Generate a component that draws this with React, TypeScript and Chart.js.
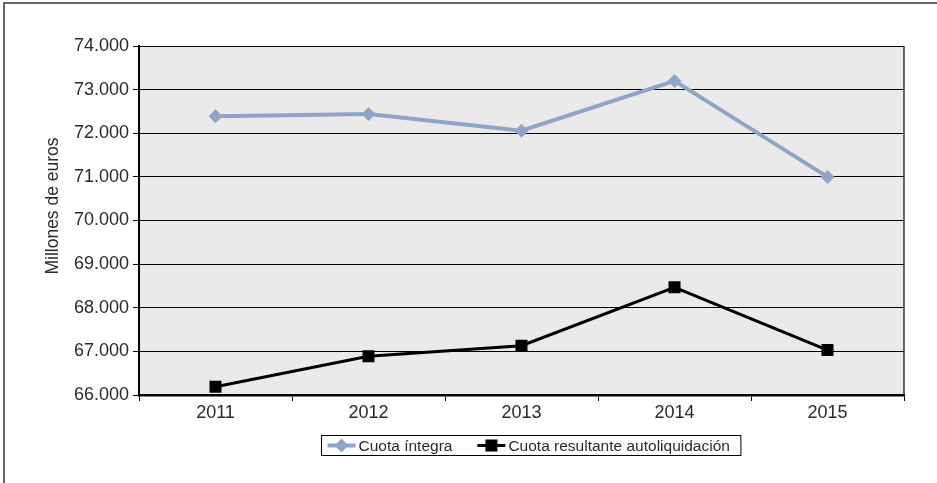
import React, { useEffect, useRef } from "react";
import { Chart, registerables } from "chart.js";

Chart.register(...registerables);

const categories = ["2011", "2012", "2013", "2014", "2015"];
const cuotaIntegra = [72390, 72440, 72060, 73200, 71000];
const cuotaResultante = [66190, 66890, 67130, 68470, 67030];
const seriesNames = ["Cuota íntegra", "Cuota resultante autoliquidación"];
const yAxisTitle = "Millones de euros";
const yMin = 66000;
const yMax = 74000;
const yStep = 1000;

const BLUE = "#8EA5C8";
const FONT = "'Liberation Sans', Arial, Helvetica, sans-serif";
const TEXT = "#2a2a2a";

function fmt(v: number): string {
  return String(v).replace(/\B(?=(\d{3})+(?!\d))/g, ".");
}

const decorPlugin = {
  id: "decor",
  beforeDraw(chart: any) {
    const { ctx, chartArea } = chart;
    ctx.save();
    ctx.fillStyle = "#ffffff";
    ctx.fillRect(0, 0, chart.width, chart.height);
    ctx.fillStyle = "#EAEAEA";
    ctx.fillRect(chartArea.left, chartArea.top, chartArea.right - chartArea.left, chartArea.bottom - chartArea.top);
    ctx.strokeStyle = "#666666";
    ctx.lineWidth = 2;
    ctx.beginPath();
    ctx.moveTo(4, chart.height);
    ctx.lineTo(4, 3);
    ctx.lineTo(chart.width, 3);
    ctx.stroke();
    ctx.restore();
  },
  afterDatasetsDraw(chart: any) {
    const { ctx, chartArea } = chart;
    ctx.save();
    ctx.strokeStyle = "#333333";
    ctx.lineWidth = 1.5;
    ctx.beginPath();
    ctx.moveTo(chartArea.right, chartArea.top);
    ctx.lineTo(chartArea.right, chartArea.bottom);
    ctx.stroke();

    ctx.fillStyle = TEXT;
    ctx.font = `17.5px ${FONT}`;
    ctx.textAlign = "center";
    ctx.textBaseline = "middle";
    ctx.translate(53, 206);
    ctx.rotate(-Math.PI / 2);
    ctx.fillText(yAxisTitle, 0, 0);
    ctx.restore();

    // legend
    ctx.save();
    ctx.font = `15.5px ${FONT}`;
    const markW = 28;
    const gapText = 3;
    const gapItems = 25;
    const padL = 6;
    const padR = 11;
    const w1 = ctx.measureText(seriesNames[0]).width;
    const w2 = ctx.measureText(seriesNames[1]).width;
    const total = padL + markW + gapText + w1 + gapItems + markW + gapText + w2 + padR;
    const cx = 530.5;
    const bx = Math.round(cx - total / 2) + 0.5;
    const by = 435.5;
    const bh = 20;
    ctx.fillStyle = "#ffffff";
    ctx.fillRect(bx, by, total, bh);
    ctx.strokeStyle = "#000000";
    ctx.lineWidth = 1;
    ctx.strokeRect(bx, by, total, bh);
    const my = by + bh / 2;
    let x = bx + padL;
    ctx.strokeStyle = BLUE;
    ctx.lineWidth = 4;
    ctx.beginPath();
    ctx.moveTo(x, my);
    ctx.lineTo(x + markW, my);
    ctx.stroke();
    ctx.fillStyle = BLUE;
    const d = 7;
    const mx1 = x + markW / 2;
    ctx.beginPath();
    ctx.moveTo(mx1 - d, my);
    ctx.lineTo(mx1, my - d);
    ctx.lineTo(mx1 + d, my);
    ctx.lineTo(mx1, my + d);
    ctx.closePath();
    ctx.fill();
    x += markW + gapText;
    ctx.fillStyle = TEXT;
    ctx.textAlign = "left";
    ctx.textBaseline = "middle";
    ctx.fillText(seriesNames[0], x, my + 1);
    x += w1 + gapItems;
    ctx.strokeStyle = "#000000";
    ctx.lineWidth = 3;
    ctx.beginPath();
    ctx.moveTo(x, my);
    ctx.lineTo(x + markW, my);
    ctx.stroke();
    ctx.fillStyle = "#000000";
    const mx2 = x + markW / 2;
    ctx.fillRect(mx2 - 6, my - 6, 12, 12);
    x += markW + gapText;
    ctx.fillStyle = TEXT;
    ctx.fillText(seriesNames[1], x, my + 1);
    ctx.restore();
  },
};

export default function App() {
  const ref = useRef<HTMLCanvasElement | null>(null);
  useEffect(() => {
    if (!ref.current) return;
    const chart = new Chart(ref.current, {
      type: "line",
      data: {
        labels: categories,
        datasets: [
          {
            label: seriesNames[0],
            data: cuotaIntegra,
            borderColor: BLUE,
            backgroundColor: BLUE,
            borderWidth: 4,
            pointStyle: "rectRot",
            pointRadius: 7,
            pointBorderWidth: 0,
            pointBackgroundColor: BLUE,
            tension: 0,
          },
          {
            label: seriesNames[1],
            data: cuotaResultante,
            borderColor: "#000000",
            backgroundColor: "#000000",
            borderWidth: 3,
            pointStyle: "rect",
            pointRadius: 8.5,
            pointBorderWidth: 0,
            pointBackgroundColor: "#000000",
            tension: 0,
          },
        ],
      },
      options: {
        animation: false,
        responsive: false,
        devicePixelRatio: 1,
        layout: { padding: { left: 0, top: 46, right: 33, bottom: 58 } },
        plugins: {
          legend: { display: false },
          tooltip: { enabled: false },
          title: { display: false },
        },
        scales: {
          x: {
            type: "category",
            offset: true,
            grid: {
              offset: true,
              drawOnChartArea: false,
              drawTicks: true,
              tickLength: 6,
              tickColor: "#000000",
              tickWidth: 1,
            },
            border: { display: true, color: "#000000", width: 2.5 },
            ticks: {
              color: TEXT,
              font: { family: FONT, size: 18 },
              padding: 1,
              maxRotation: 0,
            },
            afterFit: (s: any) => {
              s.height = 30;
            },
          },
          y: {
            min: yMin,
            max: yMax,
            grid: {
              color: "#000000",
              lineWidth: 1,
              drawTicks: true,
              tickLength: 6,
              tickColor: "#000000",
            },
            border: { display: true, color: "#000000", width: 2 },
            ticks: {
              stepSize: yStep,
              color: TEXT,
              font: { family: FONT, size: 18 },
              padding: 4,
              callback: (v: any) => fmt(Number(v)),
            },
            afterFit: (s: any) => {
              s.width = 139;
            },
          },
        },
      },
      plugins: [decorPlugin],
    });
    return () => chart.destroy();
  }, []);
  return (
    <div style={{ position: "absolute", left: 0, top: 0, width: 937, height: 483 }}>
      <canvas ref={ref} width={937} height={483} style={{ display: "block", width: 937, height: 483 }} />
    </div>
  );
}
